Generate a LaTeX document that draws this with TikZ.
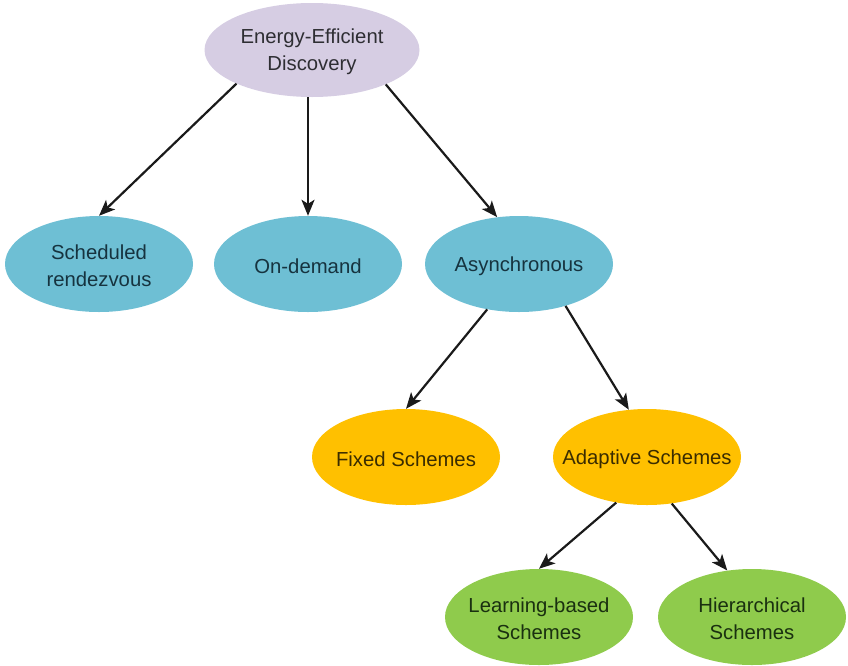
\documentclass[tikz,border=0pt]{standalone}
\usepackage{fontspec}
\setmainfont{Liberation Sans}
\usetikzlibrary{shapes.geometric,arrows.meta}

\definecolor{rootfill}{HTML}{D6CDE3}
\definecolor{bluefill}{HTML}{6EBFD4}
\definecolor{orangefill}{HTML}{FFC000}
\definecolor{greenfill}{HTML}{8FCB4C}
\definecolor{roottext}{HTML}{2E2E33}
\definecolor{bluetext}{HTML}{16333F}
\definecolor{orangetext}{HTML}{3A2C00}
\definecolor{greentext}{HTML}{1A3010}
\definecolor{edgecol}{HTML}{1A1A1A}

\tikzset{
  blob/.style={ellipse, draw=none, inner sep=0pt,
    minimum width=188pt, minimum height=96pt},
  caption/.style={font=\fontsize{20.3}{27}\selectfont, align=center, inner sep=0pt,
    yshift=-2pt},
  rootnode/.style={blob, fill=rootfill, minimum width=215pt, minimum height=94pt,
    label={[caption, text=roottext]center:#1}},
  bluenode/.style={blob, fill=bluefill, label={[caption, text=bluetext]center:#1}},
  orangenode/.style={blob, fill=orangefill, label={[caption, text=orangetext]center:#1}},
  greennode/.style={blob, fill=greenfill, label={[caption, text=greentext]center:#1}},
  link/.style={draw=edgecol, line width=2.2pt,
    -{Stealth[length=16pt, width=13pt, inset=4pt]}}
}

\begin{document}
\begin{tikzpicture}[x=1pt, y=-1pt]
  \useasboundingbox (0,0) rectangle (848,665);

  % hierarchy of discovery schemes
  \node[rootnode={Energy-Efficient\\Discovery}] (root) at (312,50) {};

  \node[bluenode={Scheduled\\rendezvous}] (sched) at (99,264) {};
  \node[bluenode={On-demand}] (ondem) at (308,264) {};
  \node[bluenode={Asynchronous}] (async) at (519,264) {};

  \node[orangenode={Fixed Schemes}] (fixed) at (406,457) {};
  \node[orangenode={Adaptive Schemes}] (adapt) at (647,457) {};

  \node[greennode={Learning-based\\Schemes}] (learn) at (539,617) {};
  \node[greennode={Hierarchical\\Schemes}] (hier) at (752,617) {};

  % connectors
  \draw[link] (root.204) -- (sched.north);
  \draw[link] (ondem.north |- root.south) -- (ondem.north);
  \draw[link] (root.335) -- (async.115);
  \draw[link] (async.235) -- (fixed.north);
  \draw[link] (async.318) -- (adapt.111);
  \draw[link] (adapt.236) -- (learn.north);
  \draw[link] (adapt.298) -- (hier.118);
\end{tikzpicture}
\end{document}
